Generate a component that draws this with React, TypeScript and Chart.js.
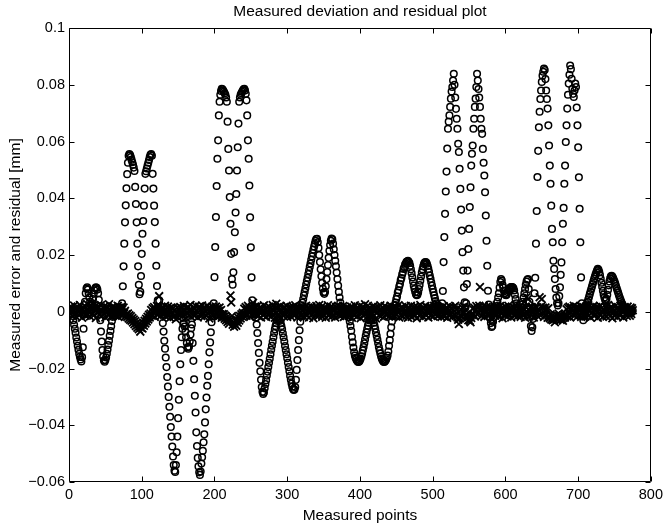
import React, { useEffect, useRef } from 'react';
import { Chart, registerables } from 'chart.js';

Chart.register(...registerables);

const TITLE = 'Measured deviation and residual plot';
const X_LABEL = 'Measured points';
const Y_LABEL = 'Measured error and residual [mm]';

const xTicks = [0, 100, 200, 300, 400, 500, 600, 700, 800];
const xTickLabels = ['0', '100', '200', '300', '400', '500', '600', '700', '800'];
const yTicks = [-0.06, -0.04, -0.02, 0, 0.02, 0.04, 0.06, 0.08, 0.1];
const yTickLabels = ['\u22120.06', '\u22120.04', '\u22120.02', '0', '0.02', '0.04', '0.06', '0.08', '0.1'];

// first measured-point number of each block below
const blockStarts = [1, 73, 129, 200, 257, 320, 385, 447, 513, 578, 642, 709];

// measured deviation (circles), in micrometres (0.001 mm)
const measured01 = [0.3, -0.4, 0.6, -0.6,
  -1.5, -3, -4.6, -6, -7.4, -9.1, -10.5, -12, -13.4, -14.8, -15.9, -16.8, -17.5,
  -16, -12.5, -6,
  -1, 3.5, 6.5, 8.2, 8.6, 7.8,
  6.5, 5, 3.5, 2.5, 2.2, 3,
  4.5, 6.3, 7.6, 8.3, 8.6, 8.4, 7.8, 6.5, 4.2,
  1, -3, -7, -10.5, -13.5, -15.8, -17.2, -17.6, -17, -16.1, -14.8, -13.3, -11.7, -10.2, -8.5, -6.8, -5.1, -3.3, -1.8, -0.8,
  0.5, -0.3, 0.8, 0.2, -0.5, 0.6, 1, -0.2, 0.4, 0.9, 1.5];
const measured02 = [3, 9, 16, 24, 31.5, 37.5, 43.5,
  48.5, 52.5, 55, 55.6, 55.2, 54.5, 53.6, 52.7, 51.8, 50.8, 49.6,
  44, 38, 31.5, 24, 16, 9.5, 6.2, 7,
  12.6, 20.4, 27.5, 32, 37.4, 43.4,
  48.6, 49.5, 50.5, 51.5, 52.5, 53.5, 54.5, 55.3, 55.6, 55,
  48.6, 43.4, 37.4, 31.6, 24, 16.2, 9.1, 4, 1.5,
  4, 1, -0.5, 0.6, -1];
const measured03 = [-4, -7, -10.2, -13, -16.1, -19.5, -23, -26.4, -30, -33.5, -37, -40.6, -44, -47.5, -51, -54, -56, -56.5,
  -54, -49.5, -44, -37.5, -31, -24.5, -18.5, -13.5,
  -9, -6, -4.3, -4, -5.2, -7, -9, -11, -12.5, -13, -12.3, -10.5, -8, -5.8, -4.5,
  -11, -17.3, -23.8, -29.6, -35.5, -42.5, -47.3, -51.5, -54.5, -56.6, -57.5,
  -56.3, -53.5, -51.3, -49, -46, -43.2, -39, -34.4, -30.2, -26.1, -22.6, -18.5, -14.3, -10.8, -7.2, -3.7,
  -1.5, 0.5, 3];
const measured04 = [12.2, 22.8, 33.4, 44.3, 53.9, 60.4, 69.2,
  74, 76.5, 77.8, 78.6, 78.4, 78, 77.5, 77, 76.5, 75.5, 74,
  67, 57.4, 49.8, 40.4, 31, 20.4, 11.5, 9.5,
  13.9, 21, 28, 35, 41.5, 49.8, 58, 66.3,
  74, 75.5, 76.5, 77, 77.5, 78, 78.4, 78.6, 78, 76.8, 74.5,
  69.2, 60.4, 53.9, 44.5, 33.3, 22.7, 12.1, 4, 1,
  0.5, -0.5, -1];
const measured05 = [-2, -4.5, -7.5, -11, -14.5, -18, -21, -24, -26.5, -28.2, -29, -28.5, -27,
  -25.5, -24.1, -22.5, -21.1, -19.5, -18, -16.6, -15, -13.4, -12, -10.6, -9, -7.5, -6.2, -5, -4, -3.2, -2.7, -2.5, -2.7,
  -3.2, -4, -5, -6.2, -7.6, -9, -10.5, -12.1, -13.5, -15, -16.4, -18, -19.5, -21, -22.6, -24, -25.3, -26.4, -27.2, -27.6, -27.4, -26.5,
  -24, -20.5, -17, -13.5, -10, -6.5, -3.5, -1];
const measured06 = [2, 3.2, 4.5, 5.8, 7, 8.3, 9.6, 10.8, 12, 13.3, 14.5, 15.8, 17, 18.3, 19.5, 20.7, 21.9, 23, 24, 25, 25.6, 25.7,
  24.5, 22.5, 20, 17.5, 15, 12.5, 10.2, 8.2, 6.8, 6.3, 7,
  9, 11.5, 14, 16.5, 19, 21.5, 23.5, 25, 25.8, 25.5,
  24, 22, 20, 18, 16, 13.8, 11.5, 9.2, 7, 5, 3.2, 1.8, 0.8,
  0, -0.5, 0.3, -0.8, 0.2, -0.3, 0.6, -0.5, -1.2];
const measured07 = [-2, -3.4, -5, -6.7, -8.8, -10.8, -12.6, -14.3, -15.4, -16.2,
  -16.8, -17.3, -17.6, -17.7, -17.5, -17.1, -16.5, -15.7, -14.7,
  -13.6, -12.4, -11.1, -9.8, -8.5, -7.2, -6, -4.9, -3.9, -3.1, -2.5, -2.2, -2.2, -2.5,
  -3.1, -3.9, -4.9, -6, -7.2, -8.5, -9.8, -11.1, -12.4, -13.6, -14.7,
  -15.7, -16.5, -17.1, -17.5, -17.7, -17.6, -17.3, -16.8, -16.2,
  -15.4, -14, -12, -10, -7.8, -5.5, -3.4, -1.6, 0];
const measured08 = [1.2, 2.4, 3.2, 4.5, 5.4, 6.8, 7.6, 8.9, 9.8, 11.1, 11.9, 13.1, 13.9, 15.1, 15.7, 16.6, 17, 17.6, 17.7, 18, 17.6,
  17.2, 16.2, 15, 13.6, 12.1, 10.6, 9.2, 8, 7, 6.2, 5.8, 6, 6.8, 8, 9.4, 10.9, 12.4, 13.8, 15, 16, 16.8, 17.3, 17.5,
  17.4, 16.9, 16.1, 15.1, 14, 12.8, 11.6, 10.4, 9.2, 8, 6.9, 5.8, 4.8, 3.8, 3, 2.2, 1.5, 0.9,
  0.3, -0.4, 0.8, 1.5];
const measured09 = [3, 7.3, 17.5, 26.3, 34.5, 42.4, 49.4, 57.5, 64.5, 67, 69.2, 72.2, 75.1, 77.6, 79.2, 81.5, 83.9,
  80, 75.5, 71.5, 68, 64.5, 59.2, 56.3, 50.4, 43.3, 36, 28.6, 21, 14.5, 8.6, 3.3, 1.5,
  3, 9.8, 14.5, 22.1, 29.2, 36.9, 43.9, 51.5, 55.7, 58.6,
  64.5, 68, 72.2, 75.1, 79.2, 83.9, 81.5, 78.5, 75.5, 72.2, 68, 64.5, 62.7, 57.4, 52.5, 48, 42.1, 33.9, 25, 16.2, 7.4, 2.5];
const measured10 = [0, -2, -4, -5.4, -5, -3.5, -2, -0.5,
  0.5, 1, 2, 3.5, 5, 6.5, 8.5, 10.5, 11.5, 11, 9.5, 8.5, 7.3, 6.5, 6, 5.8, 6.2, 7,
  7.5, 8, 8.3, 8.6, 8.7, 8.7, 8.6, 8.3, 7.5, 6, 4.5, 3, 1.5, 0.5, -0.5,
  -1, -0.5, 0.5, 1.5, 2.5, 3.5, 5, 6.5, 8, 9.5, 10.6, 11.3, 11.5, 8, 3.5, -1.5, -5, -6.8, -5.5, -2.5, 1.5, 6.5, 12];
const measured11 = [24, 35.5, 47.5, 56.7, 65, 70.5, 75, 78, 81, 83.2, 84.6, 85.7, 85.2,
  82, 78, 75, 71.6, 65.7, 58.6, 51.5, 45.1, 37.4, 29.2, 24.5, 18, 15.1, 11.5, 8, 5, 3, 2.2,
  3, 5.5, 8.6, 13, 17.4, 24.5, 31, 36.6, 45.1, 51.5, 59.8, 65.7, 71.6,
  76.5, 80.4, 83.5, 86.8, 85.5, 82.1, 78.6, 76.8, 75.7, 78, 80.4, 79.2,
  72, 65.7, 58, 47.4, 36.3, 24.5, 12.1, 3, -1.5, -3, -1.5];
const measured12 = [0.5, 1, 1.8, 2.6, 3.5, 4.4, 5.3, 6.2, 7.1, 8, 8.9, 9.8, 10.7, 11.6, 12.4, 13.2, 13.9, 14.6, 15.1, 14.8, 14, 12.9, 11.6, 10.2, 8.8, 7.4, 6.1, 5, 4.2, 4,
  4.6, 6, 7.7, 9.3, 10.7, 11.8, 12.5, 12.7, 12.4, 11.9, 11.3, 10.6, 9.9, 9.1, 8.3, 7.5, 6.7, 5.9, 5.1, 4.4, 3.7, 3.1, 2.5, 2, 1.6, 1.2, 0.9, 0.6, 0.4, 0.2, 0,
  -0.3, 0.2, -0.5, 0.3, -0.2, 0.4];

// residual (crosses), in micrometres (0.001 mm)
const residual01 = [1.2, -0.8, 1.8, 0.4, -1.5, 0.9, 2.2, -0.5, 1.4, -1.8, 0.6, 1.7, -1.1, 0.3, 2.4, -0.6, 1.0, -2.1, 0.8, 1.5,
  -0.3, 2.0, -1.4, 0.6, 2.7, -0.9, 0.2, 1.5, -1.7, 0.9, 2.1, -0.5, 1.2, -1.2, 0.5, 1.8, -2.2, 0.8, 1.4, -0.3,
  1.7, -1.1, 0.6, 2.4, -1.5, 0.3, 1.4, -0.8, 2.0, -2.0, 0.9, 0.0, 1.5, -1.2, 2.6, -0.6, 0.8, -1.7, 1.2, 1.8,
  -0.9, 0.5, 1.5, -1.4, 1.1, -0.3, 2.1, -1.8, 0.6, 1.4, -0.8, 1.7];
const residual02 = [0.8, -1.2, 1.5, -0.5, 0.3, -1.5, -0.9,
  -1.8, -0.6, -2.4, -1.2, -2.8, -1.6, -3.2, -2.2, -3.8, -2.7, -4.4, -3.3, -5.0, -3.9, -5.6, -4.5, -6.2, -5.1, -7.0, -5.6,
  -4.6, -5.9, -3.9, -4.9, -3.2, -4.1, -2.5, -3.4, -1.8, -2.7, -1.1, -2.0, -0.6,
  0.6, -1.4, 1.2, -0.3, 1.7, -1.8, 0.9, 0.2, 2.0, -1.1, 1.4,
  5.5, 0.5, -1.5, 1.1, -0.6];
const residual03 = [1.5, -0.9, 0.5, 2.1, -1.7, 0.8, -0.3, 1.8, -1.2, 1.1, -2.1, 0.3, 1.5, -0.8, 1.2, -1.8, 0.6, -1.4,
  -2.6, -0.5, 1.4, -2.0, 0.9, -1.1, 1.7, -0.3,
  1.2, -1.5, 0.6, 2.0, -0.9, 0.3, -2.2, 1.4, -0.5, 1.7, -1.2, 0.8, 2.4, -1.8, 0.5, -0.6, 1.5, -1.4, 1.1, 2.1,
  -0.8, 0.2, -2.0, 1.2, 1.8, -1.1, 0.6, -1.5, 2.2, -0.3, 0.9, -1.7, 1.4, 0.3, -1.2, 2.0, -0.6, 1.1, -2.4, 1.5,
  0.5, -0.9, 1.8, -1.4, 0.8];
const residual04 = [0.9, -1.4, 1.8, -0.5, 1.2, -1.7, 0.3, 1.5, -0.9, 0.6, -2.1, -0.8,
  -1.8, -0.9, -2.5, -1.4, -3.0, -2.0, -3.6, -2.6, -4.2, -3.1, 5.7, 3.3, -1.5, -4.6, -3.7, -5.3, -4.3, -3.4, -4.9, -2.8,
  -3.9, -2.1, -3.1, -1.5, -2.4, -0.9, -1.7, -0.4, -1.2,
  1.1, -0.6, 1.7, -1.4, 0.8, 2.1, -0.3, 1.2, -1.8, 0.5, 1.5, -1.1, 3.2, 0.9, -0.8, 1.8];
const residual05 = [1.4, -0.8, 2.0, -1.5, 0.6, -0.3, 1.7, -2.0, 1.1, 0.3,
  -1.2, 2.3, -0.6, 0.9, -1.8, 1.5, 0.2, -1.1, 1.8, -0.5,
  1.2, -1.7, 0.8, 2.4, -0.9, 0.5, -2.1, 1.4, 2.8, -0.3,
  1.5, -1.4, 0.6, -2.3, 2.0, 0.3, -0.8, 1.2, -1.5, 1.7,
  -0.5, 0.9, 2.1, -1.8, 0.3, -1.1, 1.5, 0.8, -1.7, 1.4,
  -0.6, 1.8, -1.2, 0.5, 2.3, -0.9, 1.1, -2.0, 0.6, 1.5,
  -0.3, 1.2, -1.4];
const residual06 = [-0.9, 1.7, 0.5, -1.8, 1.2, -0.6, 2.1, -1.4, 0.3, 1.5,
  -2.0, 0.8, -0.2, 1.8, -1.1, 0.9, -2.3, 1.4, 0.5, -1.2,
  2.0, -0.5, 1.1, -1.5, 2.4, -0.8, 0.2, 1.7, -1.8, 0.6,
  -0.9, 1.5, 0.3, -2.1, 1.2, -0.3, 2.3, -1.4, 0.8, -0.5,
  1.8, -1.7, 0.9, 1.4, -1.1, 0.5, -2.0, 1.7, -0.6, 1.1,
  2.1, -1.2, 0.3, -1.5, 1.4, 0.6, -0.9, 2.0, -1.8, 0.8,
  0.2, -1.4, 1.5, -0.5, 0.9];
const residual07 = [-1.5, 1.1, -0.5, 1.8, -2.1, 0.6, 1.4, -1.2, 2.3, -0.3,
  0.9, -1.7, 1.5, 0.3, -0.9, 2.0, -2.3, 0.8, -0.2, 1.7,
  -1.4, 1.2, 2.6, -0.6, 0.5, -1.8, 2.1, -1.1, 1.4, 0.2,
  -2.0, 0.9, -0.8, 1.8, -1.4, 0.6, 1.5, -2.4, 1.1, -0.3,
  1.7, -1.2, 0.5, 2.3, -1.5, 0.8, -0.5, 1.4, -1.8, 2.0,
  0.3, -1.1, 1.5, -0.6, 0.9, -1.7, 1.2, 2.1, -0.8, 0.5,
  -1.4, 1.7];
const residual08 = [0.6, -1.5, 1.8, -0.8, 1.2, -0.3, 2.3, -2.0, 0.5, 1.4,
  -1.1, 1.7, -1.7, 0.9, 0.2, -0.6, 2.0, -1.4, 1.1, -2.1,
  1.5, 0.3, -0.9, 2.1, -1.8, 0.8, -0.5, 1.2, 1.8, -1.2,
  0.6, -2.3, 1.7, -0.2, 0.9, -1.5, 2.4, -0.8, 0.5, 1.4,
  -1.8, 1.1, -0.6, 2.0, -1.2, 0.3, 1.5, -2.0, 0.8, -0.3,
  1.8, -1.4, 0.9, 0.2, -1.7, 2.1, -0.9, 1.4, -0.5, 0.6,
  -1.5, 1.7, -0.8, 1.2, 0.3, -1.8];
const residual09 = [1.4, -0.9, 2.0, -1.7, 0.8, -0.5, 1.5, -2.1, 1.1, 0.3,
  -1.4, 1.8, -0.8, 1.2, -1.8, 0.6, 1.7, -1.1, 2.1, -1.5,
  0.9, -2.0, -2.8, -4.3, -2.4, -1.2, 0.8, -1.8, 1.4, -0.6,
  1.8, -1.7, 0.5, -1.2, -2.2, -1.4, -3.0, -1.8, -3.2, -3.7,
  -2.2, -1.1, 1.1, -0.8, 1.5, -1.7, 0.6, 2.0, -0.9, 1.2,
  -0.5, 2.1, 8.7, 0.9, -1.5, 1.4, -0.6, 2.1, -1.8, 0.8,
  -0.3, 1.7, -1.2, 0.5, 1.5];
const residual10 = [-1.1, 1.8, -2.0, 0.6, -2.6, 1.2, -0.8, 1.7, -1.4, 0.5,
  2.3, -0.9, 1.4, -1.8, 0.3, 2.0, -0.6, 1.1, -2.3, 1.5,
  0.2, -1.2, 1.8, -0.5, 0.9, -1.7, 2.1, -0.8, 0.5, 1.4,
  -2.0, 0.8, -0.3, 1.7, -1.4, 1.1, 2.4, -0.9, 0.3, -1.5,
  1.2, -0.6, 2.0, -1.8, 0.8, 0.0, 1.5, -1.1, 0.9, -2.1,
  1.8, 5.1, -0.5, 4.5, 0.6, -1.7, 1.4, -0.9, 1.7, -0.3,
  1.1, -2.0, 0.8, 1.5];
const residual11 = [-0.8, 1.7, -1.5, 0.9, 0.3, 5.1, -1.2, 1.8, 4.5, -0.6,
  1.4, -1.8, 0.5, 1.5, -1.1, 0.8, -2.1, 1.2, -1.5, -2.3,
  -1.0, -2.7, -1.5, -3.0, -1.9, -2.7, -3.7, -2.4, -1.2, -2.8,
  -1.7, -0.6, -2.3, -1.4, -2.9, -1.8, -2.5, -3.2, -2.1, -1.1,
  -2.0, -0.8, 0.9, -1.7, 1.4, -0.5, 1.8, -2.0, 0.8, 1.5,
  -0.9, 0.5, 2.1, -1.4, 1.1, -0.3, 1.7, -1.7, 0.6, 1.4,
  -1.1, 2.0, -1.8, 0.9, -0.5, 1.5, -1.2];
const residual12 = [1.1, -1.7, 1.8, -0.6, 0.8, 2.3, -1.4, 0.3, -2.0, 1.5,
  -0.3, 1.2, 2.0, -1.5, 0.6, -0.9, 1.7, 0.5, -2.1, 1.4,
  -0.8, 2.1, -1.2, 0.2, 1.5, -1.8, 0.9, 0.3, -1.1, 1.8,
  -1.7, 0.8, 2.4, -0.6, 1.2, -1.5, 0.5, 1.7, -2.3, 1.1,
  0.0, -1.4, 2.0, -0.5, 0.9, -1.8, 1.5, 0.6, -1.2, 2.1,
  -0.9, 0.3, 1.4, -2.0, 0.8, 1.7, -0.6, 1.1, -1.5, 1.8,
  -0.3, 0.9, -1.4, 1.5, -0.8, 1.2, 0.5];

const measuredBlocks = [measured01, measured02, measured03, measured04, measured05, measured06,
  measured07, measured08, measured09, measured10, measured11, measured12];
const residualBlocks = [residual01, residual02, residual03, residual04, residual05, residual06,
  residual07, residual08, residual09, residual10, residual11, residual12];

function toPoints(blocks: number[][]) {
  const pts: { x: number; y: number }[] = [];
  blocks.forEach((block, k) => {
    block.forEach((v, j) => pts.push({ x: blockStarts[k] + j, y: v / 1000 }));
  });
  return pts;
}

const FONT = "'Liberation Sans', Arial, Helvetica, sans-serif";

const framePlugin = {
  id: 'matlabFrame',
  afterDatasetsDraw(chart: any) {
    const { ctx, chartArea: a, scales } = chart;
    const L = Math.round(a.left) + 0.5;
    const R = Math.round(a.right) - 0.5;
    const T = Math.round(a.top) + 0.5;
    const B = Math.round(a.bottom) - 0.5;
    const len = 5;
    ctx.save();
    ctx.strokeStyle = '#000';
    ctx.lineWidth = 1;
    ctx.beginPath();
    ctx.rect(L, T, R - L, B - T);
    xTicks.forEach((v) => {
      const p = Math.round(scales.x.getPixelForValue(v)) + 0.5;
      ctx.moveTo(p, B);
      ctx.lineTo(p, B - len);
      ctx.moveTo(p, T);
      ctx.lineTo(p, T + len);
    });
    yTicks.forEach((v) => {
      const p = Math.round(scales.y.getPixelForValue(v)) + 0.5;
      ctx.moveTo(L, p);
      ctx.lineTo(L + len, p);
      ctx.moveTo(R, p);
      ctx.lineTo(R - len, p);
    });
    ctx.stroke();
    ctx.restore();
  },
};

export default function App() {
  const canvasRef = useRef<HTMLCanvasElement | null>(null);

  useEffect(() => {
    const canvas = canvasRef.current;
    if (!canvas) return;
    const chart = new Chart(canvas, {
      type: 'scatter',
      data: {
        datasets: [
          {
            label: 'Measured deviation',
            data: toPoints(measuredBlocks),
            pointStyle: 'circle',
            pointRadius: 3.3,
            pointHoverRadius: 3.3,
            borderWidth: 1.5,
            borderColor: '#000',
            backgroundColor: 'rgba(0,0,0,0)',
          },
          {
            label: 'Residual',
            data: toPoints(residualBlocks),
            pointStyle: 'crossRot',
            pointRadius: 5.5,
            pointHoverRadius: 5.5,
            borderWidth: 1.8,
            borderColor: '#000',
            backgroundColor: '#000',
          },
        ],
      },
      options: {
        responsive: false,
        animation: false,
        devicePixelRatio: 1,
        layout: { padding: { left: 0, right: 14, top: 0, bottom: 0 } },
        plugins: {
          legend: { display: false },
          tooltip: { enabled: false },
          title: {
            display: true,
            text: TITLE,
            fullSize: false,
            color: '#000',
            font: { family: FONT, size: 15.5, weight: 'normal' },
            padding: { top: 2.7, bottom: 6.7 },
          },
        },
        scales: {
          x: {
            type: 'linear',
            min: 0,
            max: 800,
            afterBuildTicks: (s: any) => { s.ticks = xTicks.map((v) => ({ value: v })); },
            afterFit: (s: any) => { s.height = 45; },
            grid: { display: false, drawTicks: false },
            border: { display: false },
            ticks: {
              color: '#000',
              font: { family: FONT, size: 14.5 },
              padding: 4,
              maxRotation: 0,
              autoSkip: false,
              callback: (v: any) => {
                const i = xTicks.indexOf(Number(v));
                return i >= 0 ? xTickLabels[i] : '';
              },
            },
            title: {
              display: true,
              text: X_LABEL,
              color: '#000',
              font: { family: FONT, size: 15.5 },
              padding: { top: 0, bottom: 1.7 },
            },
          },
          y: {
            type: 'linear',
            min: -0.06,
            max: 0.1,
            afterBuildTicks: (s: any) => { s.ticks = yTicks.map((v) => ({ value: v })); },
            afterFit: (s: any) => { s.width = 69; },
            grid: { display: false, drawTicks: false },
            border: { display: false },
            ticks: {
              color: '#000',
              font: { family: FONT, size: 14.5 },
              padding: 4,
              autoSkip: false,
              callback: (v: any) => {
                const i = yTicks.findIndex((t) => Math.abs(t - Number(v)) < 1e-9);
                return i >= 0 ? yTickLabels[i] : '';
              },
            },
            title: {
              display: true,
              text: Y_LABEL,
              color: '#000',
              font: { family: FONT, size: 15.5 },
              padding: { top: 6.5, bottom: 0 },
            },
          },
        },
      },
      plugins: [framePlugin],
    } as any);
    return () => chart.destroy();
  }, []);

  return (
    <div style={{ position: 'absolute', left: 0, top: 0, width: 667, height: 527, background: '#fff' }}>
      <canvas ref={canvasRef} width={667} height={527} style={{ display: 'block', width: 667, height: 527 }} />
    </div>
  );
}
